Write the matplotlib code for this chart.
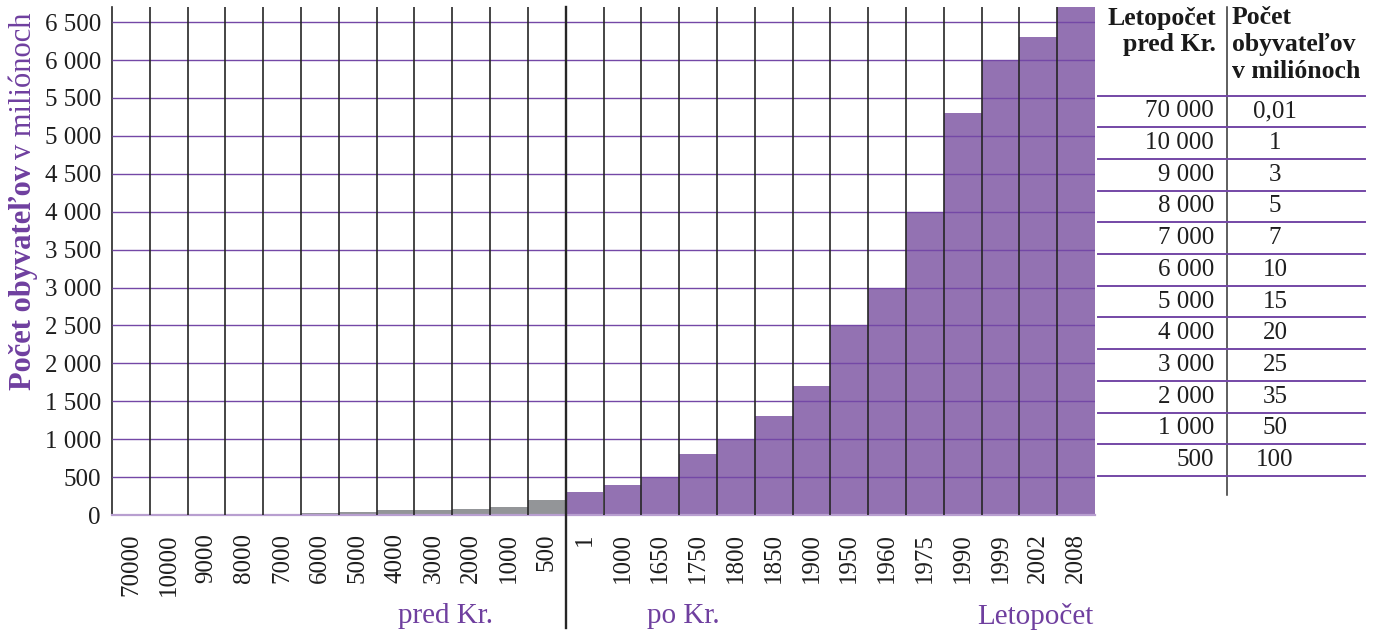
import matplotlib
matplotlib.use('Agg')
import matplotlib.pyplot as plt
import matplotlib.transforms as mtransforms

###############################################################################
# Data
###############################################################################
years_bc = ['70000', '10000', '9000', '8000', '7000', '6000',
            '5000', '4000', '3000', '2000', '1000', '500']
pop_bc = [0.01, 1, 3, 5, 7, 30, 45, 60, 60, 75, 100, 200]
years_ad = ['1', '1000', '1650', '1750', '1800', '1850', '1900',
            '1950', '1960', '1975', '1990', '1999', '2002', '2008']
pop_ad = [300, 400, 500, 800, 1000, 1300, 1700,
          2500, 3000, 4000, 5300, 6000, 6300, 6700]
yticks = list(range(0, 6501, 500))

tab_years = ['70 000', '10 000', '9 000', '8 000', '7 000', '6 000',
             '5 000', '4 000', '3 000', '2 000', '1 000', '500']
tab_pop = ['0,01', '1', '3', '5', '7', '10', '15', '20', '25', '35', '50', '100']

###############################################################################
# Style
###############################################################################
W, H = 1379, 634
FONT = 'Liberation Serif'
PURPLE_BAR = '#9372b2'
GRAY_BAR = '#939598'
GRID = '#7448a6'
TXT_PURPLE = '#6f3f9f'
VLINE = '#262626'
plt.rcParams['font.family'] = [FONT, 'DejaVu Sans']

fig = plt.figure(figsize=(W/100, H/100), dpi=100)
ax = fig.add_axes([112/W, (H-515)/H, (1095-112)/W, (515-7)/H])

labels = years_bc + years_ad
values = pop_bc + pop_ad
colors = [GRAY_BAR]*len(years_bc) + [PURPLE_BAR]*len(years_ad)
xs = list(range(len(labels)))
ax.bar(xs, values, width=1.0, color=colors, lw=0, zorder=1)

# Grid and separators
ax.hlines(yticks[1:], -0.5, len(labels)-0.5, color=GRID, lw=1.0, zorder=3)
for i in range(1, len(labels)):
    if i == len(years_bc):
        continue
    ax.axvline(i-0.5, color=VLINE, lw=1.2, zorder=4)
trans = mtransforms.blended_transform_factory(ax.transData, ax.transAxes)
ax.plot([len(years_bc)-0.5]*2, [-0.222, 1], transform=trans,
        color=VLINE, lw=1.7, clip_on=False, zorder=5)

ax.set_xlim(-0.5, len(labels)-0.5)
ax.set_ylim(0, 6700)
ax.set_yticks(yticks)
ax.set_yticklabels([f'{v:,}'.replace(',', ' ') for v in yticks])
ax.set_xticks(xs)
ax.set_xticklabels(labels, rotation=90)
ax.tick_params(axis='y', length=0, pad=8, labelsize=18, labelcolor='#1e1e1e')
ax.tick_params(axis='x', length=0, pad=13, labelsize=18, labelcolor='#1e1e1e')
for s in ['top', 'right']:
    ax.spines[s].set_visible(False)
ax.spines['left'].set_color(VLINE)
ax.spines['left'].set_linewidth(1.2)
ax.spines['bottom'].set_color('#b89fd0')
ax.spines['bottom'].set_linewidth(1.6)

###############################################################################
# Overlay (pixel coords) for labels and table
###############################################################################
ov = fig.add_axes([0, 0, 1, 1])
ov.set_xlim(0, W)
ov.set_ylim(H, 0)
ov.axis('off')
ov.patch.set_alpha(0)

ov.text(445, 616, 'pred Kr.', color=TXT_PURPLE, fontsize=21, ha='center', va='center')
ov.text(683, 616, 'po Kr.', color=TXT_PURPLE, fontsize=21, ha='center', va='center')
ov.text(1093, 616, 'Letopočet', color=TXT_PURPLE, fontsize=21, ha='right', va='center')

# y label: bold + regular parts
t1 = ov.text(31, 390, 'Počet obyvateľov', rotation=90, rotation_mode='anchor',
             ha='left', va='baseline', fontsize=22, fontweight='bold',
             color=TXT_PURPLE)
fig.canvas.draw()
bb = t1.get_window_extent()
ytop = H - bb.y1
ov.text(31, ytop - 6, 'v miliónoch', rotation=90, rotation_mode='anchor',
        ha='left', va='baseline', fontsize=22, color=TXT_PURPLE)

# Table
tx0, tx1, tdiv = 1098, 1365, 1227
line0, rowh = 95.5, 31.7
ov.plot([tdiv, tdiv], [7, 495], color='#333333', lw=1.1)
for k in range(len(tab_years)+1):
    y = line0 + k*rowh
    ov.plot([tx0, tx1], [y, y], color=GRID, lw=1.4)
hdr = dict(fontsize=18.5, fontweight='bold', color='#1a1a1a', va='center')
ov.text(1216, 18, 'Letopočet', ha='right', **hdr)
ov.text(1216, 45, 'pred Kr.', ha='right', **hdr)
ov.text(1232, 18, 'Počet', ha='left', **hdr)
ov.text(1232, 45, 'obyvateľov', ha='left', **hdr)
ov.text(1232, 72, 'v miliónoch', ha='left', **hdr)
for k, (yr, pp) in enumerate(zip(tab_years, tab_pop)):
    y = line0 + (k+0.5)*rowh
    ov.text(1214, y, yr, ha='right', va='center', fontsize=18, color='#1e1e1e')
    ov.text(1275, y, pp, ha='center', va='center', fontsize=18, color='#1e1e1e')

fig.savefig('out.png', dpi=100)
